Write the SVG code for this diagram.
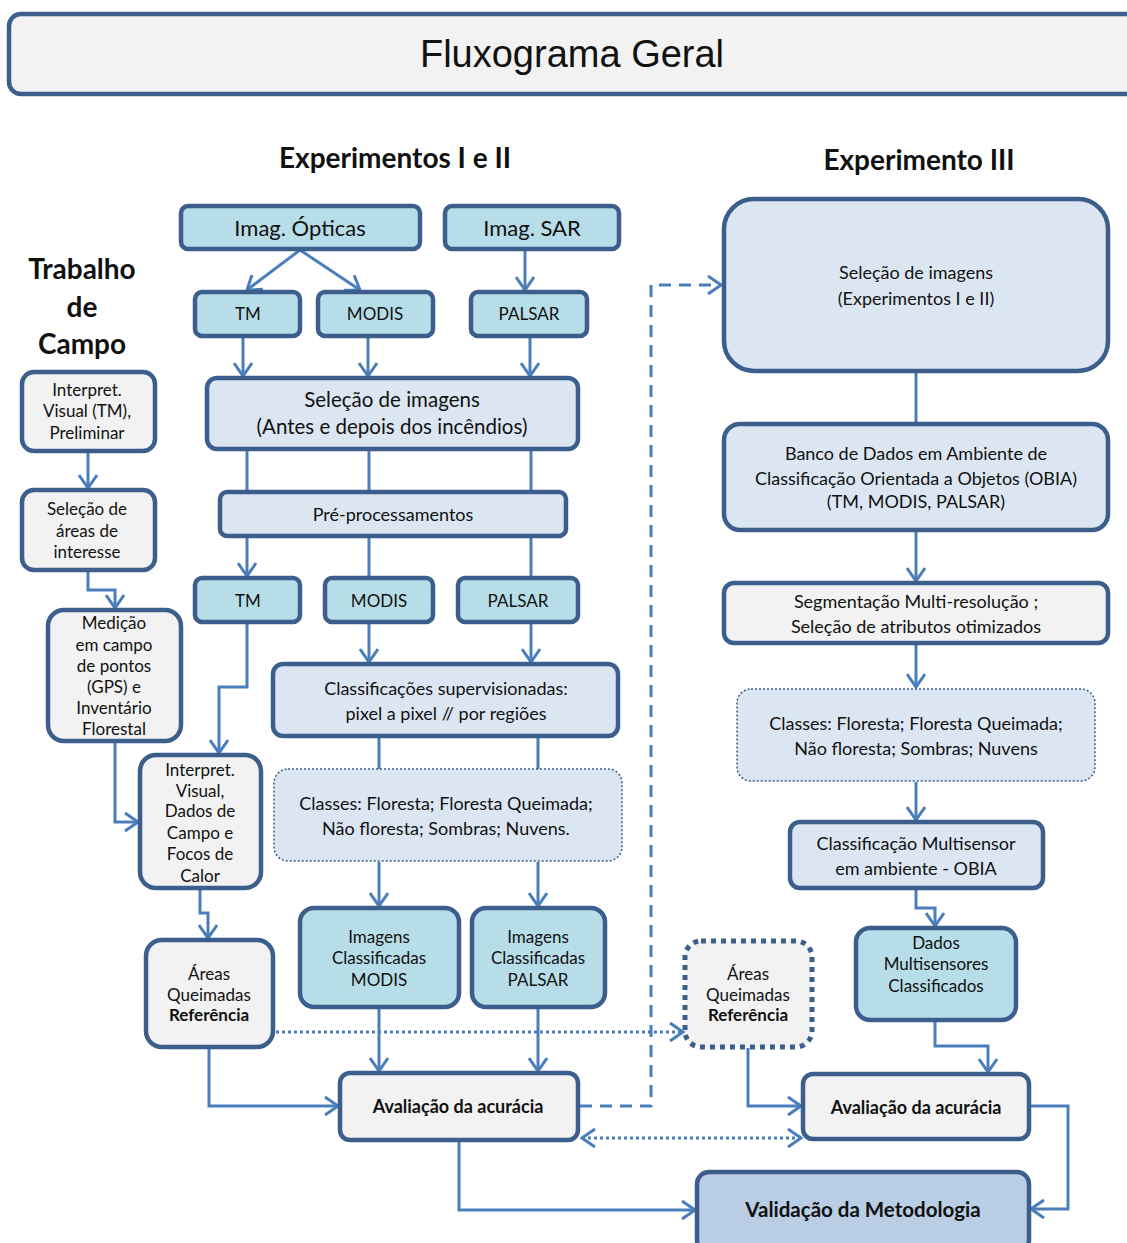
<svg xmlns="http://www.w3.org/2000/svg" width="1127" height="1243" viewBox="0 0 1127 1243">
<defs>
<marker id="arr" markerUnits="userSpaceOnUse" markerWidth="16" markerHeight="20" viewBox="0 0 16 20" refX="14" refY="10" orient="auto">
<path d="M1,1 L14,10 L1,19" fill="none" stroke="#4A7EBB" stroke-width="3"/>
</marker>
<marker id="arrS" markerUnits="userSpaceOnUse" markerWidth="16" markerHeight="20" viewBox="0 0 16 20" refX="2" refY="10" orient="auto">
<path d="M15,1 L2,10 L15,19" fill="none" stroke="#4A7EBB" stroke-width="3"/>
</marker>
</defs>
<style>
.b{stroke:#3B5E8C;stroke-width:4.5}
.lb{fill:#B7DDE8}
.pb{fill:#DCE6F2}
.gr{fill:#F2F2F2}
.va{fill:#B9CDE5}
.dot{stroke:#3B5E8C;stroke-width:1.5;stroke-dasharray:2 2}
.dotb{stroke:#3B5E8C;stroke-width:5;stroke-dasharray:5 5}
text{font-family:Lato,"Open Sans",sans-serif;fill:#111;text-anchor:middle}
.t22{font-size:22px}
.t20{font-size:20.5px}
.t18{font-size:18px}
.t17{font-size:17px}
.t16{font-size:17px}
.h{font-size:28px;font-weight:bold}
.bd{font-weight:bold}
.c{fill:none;stroke:#4A7EBB;stroke-width:3}
.ca{fill:none;stroke:#4A7EBB;stroke-width:3;marker-end:url(#arr)}
</style>
<rect width="1127" height="1243" fill="#fff"/>

<g id="title">
<rect x="9" y="14" width="1130" height="80" rx="12" class="b gr"/>
<text x="572" y="67" style="font-family:'Liberation Sans',Arial,sans-serif;font-size:38px">Fluxograma Geral</text>
</g>
<g id="headers">
<text x="395" y="168" class="h">Experimentos I e II</text>
<text x="919" y="170" class="h">Experimento III</text>
<text x="82" y="279" class="h">Trabalho</text>
<text x="82" y="317" class="h">de</text>
<text x="82" y="354" class="h">Campo</text>
</g>

<g id="connectors">
<path class="ca" d="M300,250 L247,290"/>
<path class="ca" d="M300,250 L360,290"/>
<path class="ca" d="M525,250 V290"/>
<path class="ca" d="M243,337 V376"/>
<path class="ca" d="M368,337 V376"/>
<path class="ca" d="M530,337 V376"/>
<path class="c" d="M247,450 V492 M369,450 V492 M531,450 V492"/>
<path class="ca" d="M247,537 V576"/>
<path class="c" d="M369,537 V578 M531,537 V578"/>
<path class="ca" d="M247,623 V687 H219 V753"/>
<path class="ca" d="M369,623 V662"/>
<path class="ca" d="M531,623 V662"/>
<path class="c" d="M379,737 V769 M538,737 V769"/>
<path class="ca" d="M379,862 V906"/>
<path class="ca" d="M538,862 V906"/>
<path class="ca" d="M379,1008 V1071"/>
<path class="ca" d="M538,1008 V1071"/>
<path class="ca" d="M88,452 V488"/>
<path class="ca" d="M88,571 V590 H115 V608"/>
<path class="ca" d="M115,742 V822 H138"/>
<path class="ca" d="M200,889 V913 H208 V938"/>
<path class="ca" d="M209,1048 V1106 H338"/>
<path class="ca" d="M276,1032 H683" style="stroke-dasharray:3 3"/>
<path class="ca" d="M580,1106 H651 V285 H721" style="stroke-dasharray:12 8"/>
<path class="ca" d="M582,1138 H801" style="stroke-dasharray:3 3;marker-start:url(#arrS)"/>
<path class="ca" d="M459,1141 V1210 H695"/>
<path class="ca" d="M748,1048 V1106 H801"/>
<path class="c" d="M916,372 V424"/>
<path class="ca" d="M916,531 V581"/>
<path class="ca" d="M916,644 V687"/>
<path class="ca" d="M916,782 V820"/>
<path class="ca" d="M916,889 V908 H935 V926"/>
<path class="ca" d="M935,1021 V1046 H988 V1072"/>
<path class="ca" d="M1031,1106 H1068 V1209 H1031"/>
</g>

<g id="imag-opticas"><rect x="181" y="206" width="239" height="43" rx="7" class="b lb"/><text x="300" y="236" class="t22">Imag. Ópticas</text></g>
<g id="imag-sar"><rect x="445" y="206" width="174" height="43" rx="7" class="b lb"/><text x="532" y="236" class="t22">Imag. SAR</text></g>
<g id="tm1"><rect x="195" y="292" width="105" height="44" rx="7" class="b lb"/><text x="248" y="320" class="t17">TM</text></g>
<g id="modis1"><rect x="318" y="292" width="115" height="44" rx="7" class="b lb"/><text x="375" y="320" class="t17">MODIS</text></g>
<g id="palsar1"><rect x="471" y="292" width="116" height="44" rx="7" class="b lb"/><text x="529" y="320" class="t17">PALSAR</text></g>
<g id="selecao1"><rect x="207" y="378" width="371" height="71" rx="10" class="b pb"/><text x="392" y="407" class="t20">Seleção de imagens</text><text x="392" y="434" class="t20">(Antes e depois dos incêndios)</text></g>
<g id="preproc"><rect x="220" y="492" width="346" height="44" rx="7" class="b pb"/><text x="393" y="521" class="t18">Pré-processamentos</text></g>
<g id="tm2"><rect x="195" y="578" width="105" height="44" rx="7" class="b lb"/><text x="248" y="607" class="t17">TM</text></g>
<g id="modis2"><rect x="325" y="578" width="108" height="44" rx="7" class="b lb"/><text x="379" y="607" class="t17">MODIS</text></g>
<g id="palsar2"><rect x="458" y="578" width="120" height="44" rx="7" class="b lb"/><text x="518" y="607" class="t17">PALSAR</text></g>
<g id="classif1"><rect x="273" y="664" width="345" height="72" rx="10" class="b pb"/><text x="446" y="695" class="t18">Classificações supervisionadas:</text><text x="446" y="720" class="t18">pixel a pixel // por regiões</text></g>
<g id="classes1"><rect x="274" y="769" width="348" height="92" rx="14" class="dot pb"/><text x="446" y="810" class="t18">Classes: Floresta; Floresta Queimada;</text><text x="446" y="835" class="t18">Não floresta; Sombras; Nuvens.</text></g>
<g id="img-modis"><rect x="300" y="908" width="159" height="99" rx="14" class="b lb"/><text x="379" y="943" class="t16">Imagens</text><text x="379" y="964" class="t16">Classificadas</text><text x="379" y="986" class="t16">MODIS</text></g>
<g id="img-palsar"><rect x="472" y="908" width="133" height="99" rx="14" class="b lb"/><text x="538" y="943" class="t16">Imagens</text><text x="538" y="964" class="t16">Classificadas</text><text x="538" y="986" class="t16">PALSAR</text></g>
<g id="aval1"><rect x="340" y="1073" width="238" height="67" rx="10" class="b gr"/><text x="458" y="1113" class="t18 bd">Avaliação da acurácia</text></g>

<g id="interp1"><rect x="22" y="372" width="133" height="79" rx="12" class="b gr"/><text x="87" y="396" class="t16">Interpret.</text><text x="87" y="417" class="t16">Visual (TM),</text><text x="87" y="439" class="t16">Preliminar</text></g>
<g id="sel-areas"><rect x="22" y="490" width="133" height="80" rx="12" class="b gr"/><text x="87" y="515" class="t16">Seleção de</text><text x="87" y="537" class="t16">áreas de</text><text x="87" y="558" class="t16">interesse</text></g>
<g id="medicao"><rect x="48" y="610" width="133" height="131" rx="16" class="b gr"/><text x="114" y="629" class="t16">Medição</text><text x="114" y="651" class="t16">em campo</text><text x="114" y="672" class="t16">de pontos</text><text x="114" y="693" class="t16">(GPS) e</text><text x="114" y="714" class="t16">Inventário</text><text x="114" y="735" class="t16">Florestal</text></g>
<g id="interp2"><rect x="140" y="755" width="121" height="133" rx="16" class="b gr"/><text x="200" y="776" class="t16">Interpret.</text><text x="200" y="797" class="t16">Visual,</text><text x="200" y="817" class="t16">Dados de</text><text x="200" y="839" class="t16">Campo e</text><text x="200" y="860" class="t16">Focos de</text><text x="200" y="882" class="t16">Calor</text></g>
<g id="areas-ref1"><rect x="146" y="940" width="127" height="107" rx="16" class="b gr"/><text x="209" y="980" class="t16">Áreas</text><text x="209" y="1001" class="t16">Queimadas</text><text x="209" y="1021" class="t16 bd">Referência</text></g>

<g id="selecao3"><rect x="724" y="199" width="384" height="172" rx="30" class="b pb"/><text x="916" y="279" class="t18">Seleção de imagens</text><text x="916" y="305" class="t18">(Experimentos I e II)</text></g>
<g id="banco"><rect x="724" y="424" width="384" height="106" rx="16" class="b pb"/><text x="916" y="460" class="t18">Banco de Dados em Ambiente de</text><text x="916" y="485" class="t18">Classificação Orientada a Objetos (OBIA)</text><text x="916" y="508" class="t18">(TM, MODIS, PALSAR)</text></g>
<g id="segment"><rect x="724" y="583" width="384" height="60" rx="10" class="b gr"/><text x="916" y="608" class="t18">Segmentação Multi-resolução ;</text><text x="916" y="633" class="t18">Seleção de atributos otimizados</text></g>
<g id="classes3"><rect x="737" y="689" width="358" height="92" rx="14" class="dot pb"/><text x="916" y="730" class="t18">Classes: Floresta; Floresta Queimada;</text><text x="916" y="755" class="t18">Não floresta; Sombras; Nuvens</text></g>
<g id="classif-multi"><rect x="790" y="822" width="253" height="66" rx="10" class="b pb"/><text x="916" y="850" class="t18">Classificação Multisensor</text><text x="916" y="875" class="t18">em ambiente  - OBIA</text></g>
<g id="dados-multi"><rect x="856" y="928" width="160" height="92" rx="14" class="b lb"/><text x="936" y="949" class="t16">Dados</text><text x="936" y="970" class="t16">Multisensores</text><text x="936" y="992" class="t16">Classificados</text></g>
<g id="areas-ref2"><rect x="685" y="941" width="127" height="106" rx="16" class="dotb gr"/><text x="748" y="980" class="t16">Áreas</text><text x="748" y="1001" class="t16">Queimadas</text><text x="748" y="1021" class="t16 bd">Referência</text></g>
<g id="aval2"><rect x="803" y="1074" width="226" height="65" rx="10" class="b gr"/><text x="916" y="1114" class="t18 bd">Avaliação da acurácia</text></g>
<g id="validacao"><rect x="697" y="1172" width="332" height="80" rx="12" class="b va"/><text x="863" y="1217" class="t20 bd">Validação  da Metodologia</text></g>
</svg>
